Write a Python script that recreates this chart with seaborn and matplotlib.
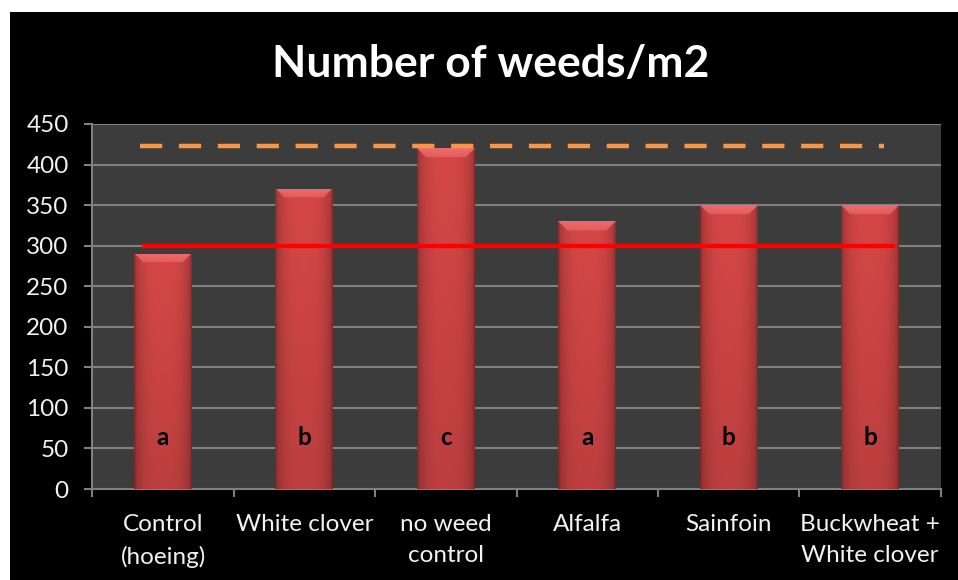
import numpy as np
import pandas as pd
import matplotlib
matplotlib.use("Agg")
import matplotlib.pyplot as plt
import seaborn as sns
from matplotlib.patches import Rectangle
from matplotlib.ticker import FixedLocator, NullFormatter

# --- data -------------------------------------------------------------
categories = ["Control\n(hoeing)", "White clover", "no weed\ncontrol",
              "Alfalfa", "Sainfoin", "Buckwheat +\nWhite clover"]
weeds_per_m2 = [290, 370, 420, 330, 350, 350]
group_letters = ["a", "b", "c", "a", "b", "b"]
reference_level = 300      # solid red line
upper_level = 423          # dashed orange line
y_ticks = [0, 50, 100, 150, 200, 250, 300, 350, 400, 450]

df = pd.DataFrame({"treatment": categories, "weeds": weeds_per_m2})

# --- style --------------------------------------------------------------
sns.set_theme(style="dark")
plt.rcParams["font.family"] = ["Lato", "DejaVu Sans"]

W, H, DPI = 958, 580, 100
fig = plt.figure(figsize=(W / DPI, H / DPI), dpi=DPI, facecolor="white")

# black chart area with a thin white margin on top/left
fig.patches.append(Rectangle((10 / W, 0), 1, (H - 12) / H, transform=fig.transFigure,
                             facecolor="black", edgecolor="none", zorder=-10))

ax_l, ax_r, ax_t, ax_b = 92.3, 940.7, 124, 489
ax = fig.add_axes([ax_l / W, (H - ax_b) / H, (ax_r - ax_l) / W, (ax_b - ax_t) / H])
ax.set_facecolor("#3c3c3c")

sns.barplot(data=df, x="treatment", y="weeds", color="#cc4242", width=0.41,
            saturation=1, ax=ax, zorder=3, edgecolor="none")

ax.set_xlim(-0.5, len(categories) - 0.5)
ax.set_ylim(0, 450)

# bevelled / shaded bar fill
px_per_unit = (ax_b - ax_t) / 450.0
px_per_cat = (ax_r - ax_l) / len(categories)
for patch, val in zip(ax.patches, weeds_per_m2):
    x0, w = patch.get_x(), patch.get_width()
    w_px = w * px_per_cat
    bar_px = val * px_per_unit
    nx, ny = 120, 600
    xs = np.linspace(-1, 1, nx)
    horiz = 1 - 0.25 * np.abs(xs) ** 3
    edge = np.clip((1 - np.abs(xs)) / 0.07, 0, 1)
    horiz = horiz * (0.80 + 0.20 * edge)
    ys = np.linspace(1, 0, ny)          # 1 at top, 0 at bottom
    vert = 0.88 + 0.12 * ys
    base = np.array([0.84, 0.28, 0.28])
    img = base[None, None, :] * (horiz[None, :, None] * vert[:, None, None])
    # light chamfer along the top edge
    depth_px = (1 - ys) * bar_px                      # distance from top
    edge_px = (1 - np.abs(xs)) * w_px / 2             # distance from side
    bevel_px = 9.0
    top_face = (depth_px[:, None] < bevel_px) & (edge_px[None, :] > depth_px[:, None])
    shade = 1 - 0.35 * (depth_px[:, None] / bevel_px)
    light = np.array([0.93, 0.42, 0.42])
    img = np.where(top_face[:, :, None], light[None, None, :] * shade[:, :, None]
                   + img * (1 - shade[:, :, None]), img)
    img = np.clip(img, 0, 1)
    im = ax.imshow(img, extent=(x0, x0 + w, 0, val), aspect="auto",
                   interpolation="bilinear", zorder=4)
    im.set_clip_path(patch)

ax.set_xlim(-0.5, len(categories) - 0.5)
ax.set_ylim(0, 450)

# reference lines
ax.plot([-0.15, 5.18], [reference_level, reference_level], color="#ff0000",
        lw=3.2, zorder=6, solid_capstyle="butt")
ax.plot([-0.165, 5.10], [upper_level, upper_level], color="#f79646",
        lw=3.2, zorder=6, dashes=(5.0, 3.75))

# significance letters
for i, letter in enumerate(group_letters):
    ax.text(i, 63, letter, ha="center", va="center", fontsize=17.5,
            fontweight="bold", color="black", zorder=7)

# grid / axes
ax.set_yticks(y_ticks)
ax.yaxis.grid(True, color="#808080", lw=1.5, zorder=1)
ax.xaxis.grid(False)
ax.set_axisbelow(True)
for side in ["top", "right"]:
    ax.spines[side].set_visible(False)
for side in ["left", "bottom"]:
    ax.spines[side].set_visible(True)
    ax.spines[side].set_color("#808080")
    ax.spines[side].set_linewidth(1.5)

ax.xaxis.set_major_locator(FixedLocator(np.arange(-0.5, len(categories), 1.0)))
ax.xaxis.set_major_formatter(NullFormatter())
ax.set_xticks(np.arange(len(categories)), minor=True)
ax.set_xticklabels(categories, minor=True)
ax.tick_params(axis="x", which="major", length=6, width=1.5, color="#808080",
               direction="out", bottom=True)
ax.tick_params(axis="x", which="minor", length=0, pad=18, labelsize=17.5,
               labelcolor="#f2f2f2")
for lbl in ax.get_xticklabels(minor=True):
    lbl.set_linespacing(1.6)
    lbl.set_verticalalignment("top")
ax.tick_params(axis="y", length=6, width=1.5, color="#808080", direction="out",
               left=True, pad=11, labelsize=17.5, labelcolor="#f2f2f2")
ax.set_xlabel("")
ax.set_ylabel("")

fig.text(491 / W, 1 - 77 / H, "Number of weeds/m2", ha="center", va="baseline",
         fontsize=32, fontweight="bold", color="white")

fig.savefig("out.png", dpi=DPI, facecolor=fig.get_facecolor())
